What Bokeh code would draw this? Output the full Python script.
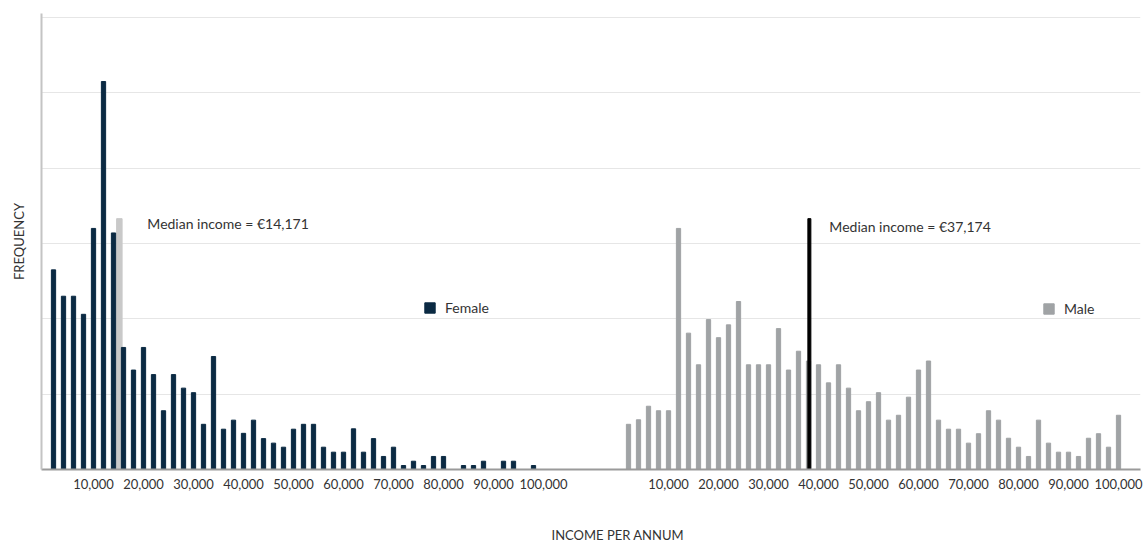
from bokeh.plotting import figure
from bokeh.models import (ColumnDataSource, FixedTicker, Label, Legend, LegendItem,
                          Range1d, Title)
from bokeh.embed import file_html
from bokeh.resources import INLINE

# ---- data -------------------------------------------------------------
# income bands (upper bound, thousands of euro), 2,000-wide bands
bands_k = [2, 4, 6, 8, 10, 12, 14, 16, 18, 20, 22, 24, 26, 28, 30, 32, 34, 36, 38, 40,
           42, 44, 46, 48, 50, 52, 54, 56, 58, 60, 62, 64, 66, 68, 70, 72, 74, 76, 78, 80,
           82, 84, 86, 88, 90, 92, 94, 96, 98, 100]

female_freq = [26.5, 23.0, 23.0, 20.6, 32.0, 51.5, 31.4, 16.2, 13.2, 16.2,
               12.6, 7.8, 12.6, 10.8, 10.2, 6.0, 15.0, 5.35, 6.55, 4.8,
               6.55, 4.1, 3.5, 2.96, 5.35, 6.0, 6.0, 2.96, 2.3, 2.3,
               5.4, 2.3, 4.1, 1.73, 2.96, 0.53, 1.1, 0.53, 1.73, 1.73,
               0, 0.53, 0.53, 1.1, 0, 1.1, 1.1, 0, 0.53, 0]

male_freq = [6.0, 6.6, 8.4, 7.8, 7.8, 32.0, 18.1, 13.9, 19.9, 17.5,
             19.2, 22.3, 13.9, 13.9, 13.9, 18.7, 13.2, 15.7, 14.4, 13.9,
             11.5, 13.9, 10.8, 7.8, 9.0, 10.2, 6.55, 7.2, 9.6, 13.2,
             14.4, 6.55, 5.35, 5.35, 3.5, 4.75, 7.8, 6.55, 4.15, 2.96,
             1.73, 6.55, 3.5, 2.3, 2.3, 1.73, 4.15, 4.75, 2.96, 7.2]

tick_values_k = [10, 20, 30, 40, 50, 60, 70, 80, 90, 100]
tick_labels = ["10,000", "20,000", "30,000", "40,000", "50,000",
               "60,000", "70,000", "80,000", "90,000", "100,000"]

grid_values = [10, 20, 30, 40, 50, 60]

female_median = 14171
male_median = 37174
median_marker_top = 33.3

# ---- layout constants ---------------------------------------------------
MALE_OFFSET = 115          # male panel shifted right on the shared axis
FONT = "Lato"
TEXT = "#333333"
FEMALE_C = "#0b2a43"
MALE_C = "#a0a3a5"
MEDIAN_F_C = "#c9c9c9"

female_x = list(bands_k)
male_x = [MALE_OFFSET + b for b in bands_k]

p = figure(width=1147, height=543, output_backend="svg", toolbar_location=None,
           x_range=Range1d(-0.4, 219.4), y_range=Range1d(0, 60.53),
           min_border_left=41, min_border_right=7, min_border_top=13,
           min_border_bottom=74)
p.outline_line_color = None
p.xgrid.grid_line_color = None

# female median marker (behind bars)
p.vbar(x=[female_median / 1000 + 1], top=[median_marker_top], width=1.1,
       color=MEDIAN_F_C)

src_f = ColumnDataSource(dict(x=female_x, top=female_freq))
src_m = ColumnDataSource(dict(x=male_x, top=male_freq))
r_f = p.vbar(x="x", top="top", width=0.85, color=FEMALE_C, source=src_f)
r_m = p.vbar(x="x", top="top", width=0.85, color=MALE_C, source=src_m)

# male median line
p.vbar(x=[MALE_OFFSET + male_median / 1000 + 1], top=[median_marker_top],
       width=0.6, color="#000000")

# x axis
ticks = tick_values_k + [MALE_OFFSET + t for t in tick_values_k]
overrides = {t: lab for t, lab in zip(tick_values_k, tick_labels)}
overrides.update({MALE_OFFSET + t: lab for t, lab in zip(tick_values_k, tick_labels)})
p.xaxis.ticker = FixedTicker(ticks=ticks)
p.xaxis.major_label_overrides = overrides
p.xaxis.major_label_text_font = FONT
p.xaxis.major_label_text_font_size = "13px"
p.xaxis.major_label_text_color = TEXT
p.xaxis.major_label_standoff = 3
p.xaxis.major_tick_line_color = None
p.xaxis.minor_tick_line_color = None
p.xaxis.axis_line_color = "#9a9a9a"
p.xaxis.axis_line_width = 2

# y axis: line + title only, grid lines at fixed values
p.yaxis.ticker = FixedTicker(ticks=[])
p.yaxis.major_tick_line_color = None
p.yaxis.minor_tick_line_color = None
p.yaxis.axis_line_color = "#c4c4c4"
p.yaxis.axis_line_width = 2
p.yaxis.axis_label = "FREQUENCY"
p.yaxis.axis_label_text_font = FONT
p.yaxis.axis_label_text_font_size = "13px"
p.yaxis.axis_label_text_font_style = "normal"
p.yaxis.axis_label_text_color = TEXT
p.yaxis.axis_label_standoff = 15
p.ygrid.ticker = FixedTicker(ticks=grid_values)
p.ygrid.grid_line_color = "#e6e6e6"
p.ygrid.grid_line_width = 1

# x axis title (below, shifted right like the reference)
p.add_layout(Title(text="INCOME PER ANNUM", align="left", offset=510, standoff=0,
                   padding=dict(left=0, right=0, top=33, bottom=0),
                   text_font=FONT, text_font_size="13px", text_font_style="normal",
                   text_color=TEXT), "below")

# median texts
p.add_layout(Label(x=female_median / 1000 + 1, y=median_marker_top, x_offset=28, y_offset=-5,
                   text=f"Median income = €{female_median:,}", text_font=FONT,
                   text_font_size="14px", text_color=TEXT, text_baseline="middle"))
p.add_layout(Label(x=MALE_OFFSET + male_median / 1000 + 1, y=median_marker_top, x_offset=20,
                   y_offset=-8, text=f"Median income = €{male_median:,}", text_font=FONT,
                   text_font_size="14px", text_color=TEXT, text_baseline="middle"))

# legends
for item_r, label, loc in [(r_f, "Female", (382, 153)), (r_m, "Male", (1001, 152))]:
    leg = Legend(items=[LegendItem(label=label, renderers=[item_r])], location=loc,
                 padding=0, margin=0, border_line_alpha=0, background_fill_alpha=0,
                 glyph_width=13, glyph_height=13, label_height=13, label_standoff=9,
                 label_text_font=FONT, label_text_font_size="14px",
                 label_text_color=TEXT)
    p.add_layout(leg)

open("out.html", "w").write(file_html(p, INLINE))
